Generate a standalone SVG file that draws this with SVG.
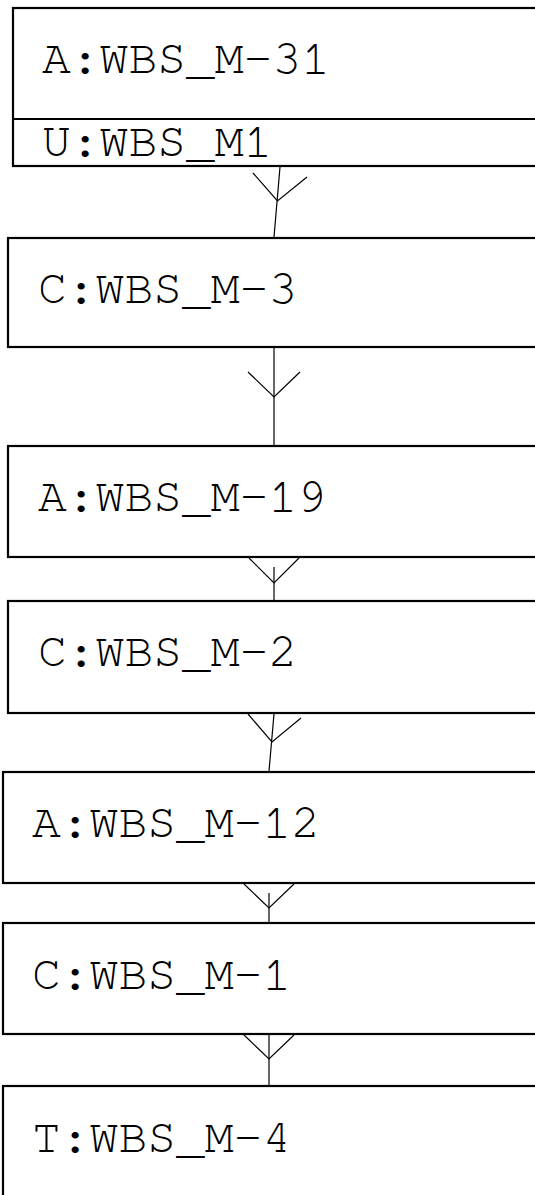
<svg xmlns="http://www.w3.org/2000/svg" width="535" height="1195" viewBox="0 0 535 1195">
  <style>
    .box { fill: #ffffff; stroke: #000000; stroke-width: 2.2; }
    .sep { stroke: #000000; stroke-width: 2.2; }
    .lbl { font-family: "Nimbus Mono PS", "Nimbus Mono L", FreeMono, Courier, "Liberation Mono", monospace; font-size: 48px; fill: #000000; }
    .edge { fill: none; stroke: #000000; stroke-width: 1.2; }
  </style>
  <rect width="535" height="1195" fill="#ffffff"/>

  <g id="node-wbs-m31">
    <rect class="box" x="13" y="8" width="540" height="158"/>
    <line class="sep" x1="13" y1="119" x2="553" y2="119"/>
    <text class="lbl" x="42" y="73">A:WBS_M-31</text>
    <text class="lbl" x="42" y="156">U:WBS_M1</text>
  </g>

  <g id="node-wbs-m3">
    <rect class="box" x="8" y="238" width="545" height="109"/>
    <text class="lbl" x="38" y="303">C:WBS_M-3</text>
  </g>

  <g id="node-wbs-m19">
    <rect class="box" x="8" y="446" width="545" height="111"/>
    <text class="lbl" x="38" y="511">A:WBS_M-19</text>
  </g>

  <g id="node-wbs-m2">
    <rect class="box" x="8" y="601" width="545" height="112"/>
    <text class="lbl" x="38" y="666">C:WBS_M-2</text>
  </g>

  <g id="node-wbs-m12">
    <rect class="box" x="3" y="772" width="550" height="111"/>
    <text class="lbl" x="32" y="837">A:WBS_M-12</text>
  </g>

  <g id="node-wbs-m1">
    <rect class="box" x="3" y="923" width="550" height="111"/>
    <text class="lbl" x="32" y="989">C:WBS_M-1</text>
  </g>

  <g id="node-wbs-m4">
    <rect class="box" x="3" y="1086" width="550" height="140"/>
    <text class="lbl" x="32" y="1152">T:WBS_M-4</text>
  </g>

  <g id="connectors">
    <!-- M-31 to M-3 -->
    <line class="edge" x1="280" y1="167" x2="274" y2="237"/>
    <polyline class="edge" points="253,173 277.5,201 307,177"/>
    <!-- M-3 to M-19 -->
    <line class="edge" x1="274" y1="348" x2="274" y2="445"/>
    <polyline class="edge" points="248,372 274,397 300,372"/>
    <!-- M-19 to M-2 -->
    <line class="edge" x1="274" y1="567" x2="274" y2="600"/>
    <polyline class="edge" points="249,558 274,583 299,558"/>
    <!-- M-2 to M-12 -->
    <line class="edge" x1="274" y1="714" x2="269" y2="771"/>
    <polyline class="edge" points="248,714 272,742 301,718"/>
    <!-- M-12 to M-1 -->
    <line class="edge" x1="269" y1="893" x2="269" y2="922"/>
    <polyline class="edge" points="244,884 269,908 294,884"/>
    <!-- M-1 to M-4 -->
    <line class="edge" x1="269" y1="1035" x2="269" y2="1085"/>
    <polyline class="edge" points="244,1035 269,1059 294,1035"/>
  </g>
</svg>
